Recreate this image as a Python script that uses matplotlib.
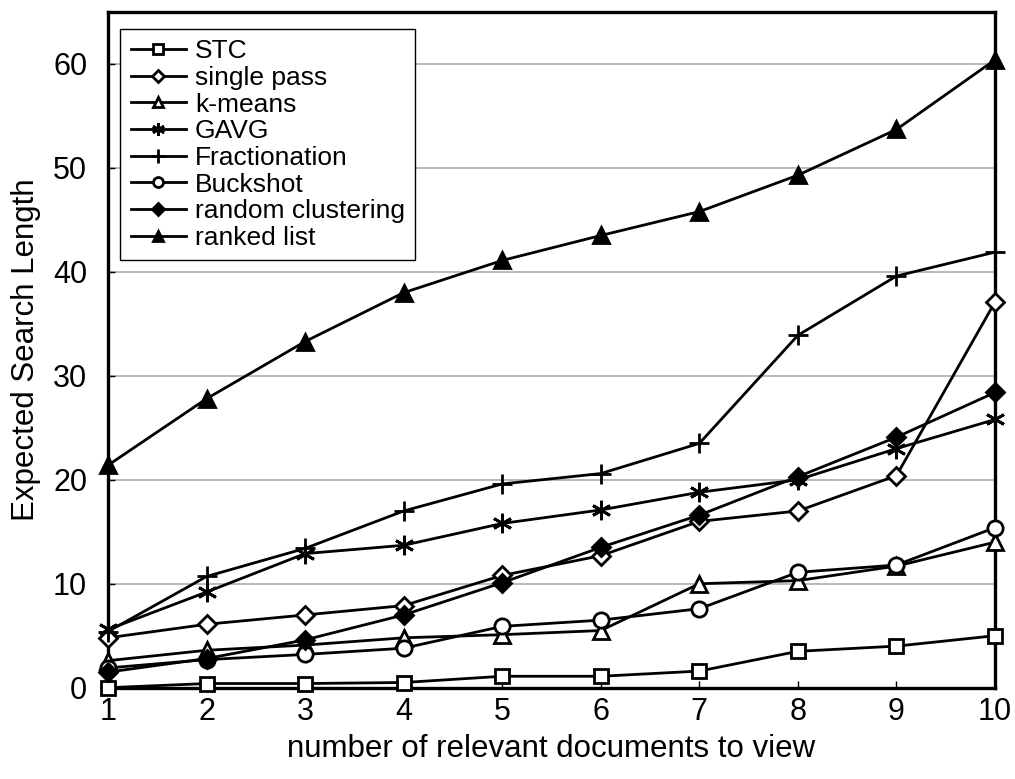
import matplotlib
matplotlib.use("Agg")
import matplotlib.pyplot as plt

plt.rcParams['font.family'] = ['Liberation Sans', 'DejaVu Sans']

# number of relevant documents the user wants to see
n_docs = [1, 2, 3, 4, 5, 6, 7, 8, 9, 10]

stc = [0.0, 0.4, 0.4, 0.5, 1.1, 1.1, 1.6, 3.5, 4.0, 5.0]
single_pass = [4.8, 6.1, 7.0, 7.9, 10.8, 12.7, 16.0, 17.0, 20.4, 37.1]
k_means = [2.6, 3.6, 4.1, 4.8, 5.1, 5.5, 10.0, 10.3, 11.7, 14.0]
gavg = [5.6, 9.2, 12.9, 13.7, 15.8, 17.1, 18.8, 20.0, 23.0, 25.8]
fractionation = [5.4, 10.7, 13.4, 17.0, 19.6, 20.6, 23.5, 33.9, 39.6, 41.9]
buckshot = [1.9, 2.7, 3.2, 3.8, 5.9, 6.5, 7.6, 11.1, 11.8, 15.4]
random_clustering = [1.5, 2.8, 4.6, 7.0, 10.1, 13.5, 16.6, 20.3, 24.1, 28.4]
ranked_list = [21.4, 27.8, 33.3, 38.0, 41.1, 43.5, 45.8, 49.3, 53.7, 60.4]

y_ticks = [0, 10, 20, 30, 40, 50, 60]

series = [
    ("STC", stc, 's', 'white', 10),
    ("single pass", single_pass, 'D', 'white', 9),
    ("k-means", k_means, '^', 'white', 11),
    ("GAVG", gavg, (6, 2, 0), 'black', 14),
    ("Fractionation", fractionation, '+', 'black', 15),
    ("Buckshot", buckshot, 'o', 'white', 11),
    ("random clustering", random_clustering, 'D', 'black', 9),
    ("ranked list", ranked_list, '^', 'black', 11),
]

fig = plt.figure(figsize=(10.15, 7.79), dpi=100)
ax = fig.add_axes([0.1064, 0.1172, 0.8739, 0.8674])

for name, vals, mk, fc, ms in series:
    ax.plot(n_docs, vals, color='black', lw=2.0, marker=mk, markersize=ms,
            markerfacecolor=fc, markeredgecolor='black', markeredgewidth=2.0,
            label=name, clip_on=False, zorder=3)

ax.set_xlim(1, 10)
ax.set_ylim(0, 65)
ax.set_xticks(n_docs)
ax.set_yticks(y_ticks)
ax.yaxis.grid(True, color='#b4b4b4', lw=1.3)
ax.set_axisbelow(True)

for sp in ax.spines.values():
    sp.set_linewidth(2.4)
    sp.set_color('black')

ax.tick_params(axis='both', direction='in', length=5, width=1, labelsize=22)
ax.tick_params(axis='x', pad=7)
ax.tick_params(axis='y', pad=15)

ax.set_xlabel("number of relevant documents to view", fontsize=22.5, labelpad=5)
ax.set_ylabel("Expected Search Length", fontsize=22.5, labelpad=9)

leg = ax.legend(loc='upper left', bbox_to_anchor=(0.0135, 0.975), borderaxespad=0,
                fontsize=19, markerscale=0.65, handlelength=2.1, handletextpad=0.34,
                labelspacing=0.1, borderpad=0.4, fancybox=False, framealpha=1,
                edgecolor='black')
leg.get_frame().set_linewidth(1.0)

plt.savefig("out.png", dpi=100)
